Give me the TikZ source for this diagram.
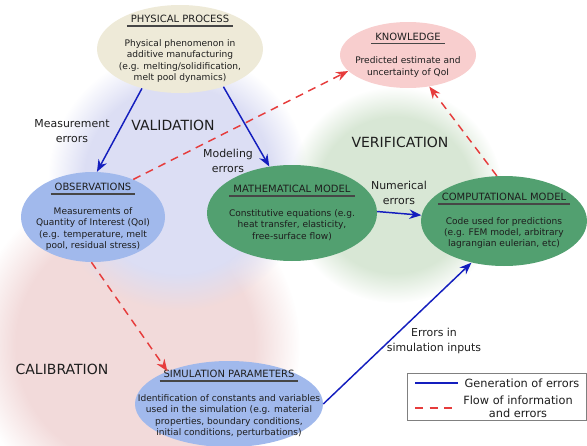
\documentclass[tikz,border=0pt]{standalone}
\usepackage{fontspec}
\setmainfont{DejaVu Sans}
\usetikzlibrary{arrows.meta, shapes.geometric, fadings}

\newcommand{\heading}[1]{\begingroup\fontsize{7.5}{9}\selectfont\setbox0=\hbox{#1}\leavevmode\rlap{\color{rule_color}\kern-3pt\rule[-3pt]{\dimexpr\wd0+6pt\relax}{1.3pt}}\box0\endgroup}

\pgfdeclareradialshading{blobshade}{\pgfpointorigin}{color(0bp)=(pgftransparent!0); color(18bp)=(pgftransparent!0); color(25bp)=(pgftransparent!100); color(50bp)=(pgftransparent!100)}
\pgfdeclarefading{soft blob}{\pgfuseshading{blobshade}}

\begin{document}
\begin{tikzpicture}[x=0.75pt, y=-0.75pt,
  bubble/.style={ellipse, inner sep=0pt},
  bubbletext/.style={align=center, text=text_color, font=\fontsize{6.8}{8.6}\selectfont},
  errlabel/.style={align=center, text=text_color, font=\fontsize{8.2}{11}\selectfont},
  zonelabel/.style={text=text_color, font=\fontsize{10.5}{12}\selectfont},
  blob/.style={path fading=soft blob},
  generr/.style={line width=1.1pt, draw=gen_color, -{Stealth[length=9pt, width=7pt]}},
  flowerr/.style={line width=1.1pt, draw=flow_color, dash pattern=on 6pt off 4.5pt, -{Stealth[length=9pt, width=7pt]}}]
\definecolor{process_color}{RGB}{238,234,216}
\definecolor{knowledge_color}{RGB}{248,206,206}
\definecolor{obs_color}{RGB}{161,185,236}
\definecolor{model_color}{RGB}{82,160,112}
\definecolor{valid_color}{RGB}{220,222,244}
\definecolor{verif_color}{RGB}{216,231,213}
\definecolor{calib_color}{RGB}{242,218,218}
\definecolor{gen_color}{RGB}{20,30,190}
\definecolor{flow_color}{RGB}{230,60,60}
\definecolor{text_color}{RGB}{30,30,30}
\definecolor{rule_color}{RGB}{70,70,70}

\useasboundingbox (0,0) rectangle (587,446);

\fill[calib_color, blob] (135,345) circle (165);
\fill[valid_color, blob] (178,180) circle (130);
\fill[verif_color, blob] (395,195) circle (108);

\node[bubble, fill=process_color, minimum width=0.75*166, minimum height=0.75*88] (phys) at (180,49) {};
\node[bubbletext] (phys-txt) at (phys) {\heading{PHYSICAL PROCESS}\\[9pt] Physical phenomenon in\\ additive manufacturing\\ (e.g. melting/solidification,\\ melt pool dynamics)};

\node[bubble, fill=knowledge_color, minimum width=0.75*136, minimum height=0.75*66] (know) at (408,55) {};
\node[bubbletext] (know-txt) at (know) {\heading{KNOWLEDGE}\\[9pt] Predicted estimate and\\ uncertainty of QoI};

\node[bubble, fill=obs_color, minimum width=0.75*144, minimum height=0.75*90] (obs) at (93,217) {};
\node[bubbletext] (obs-txt) at (obs) {\heading{OBSERVATIONS}\\[9pt] Measurements of\\ Quantity of Interest (QoI)\\ (e.g. temperature, melt\\ pool, residual stress)};

\node[bubble, fill=model_color, minimum width=0.75*170, minimum height=0.75*96] (math) at (292,213) {};
\node[bubbletext] (math-txt) at (math) {\heading{MATHEMATICAL MODEL}\\[9pt] Constitutive equations (e.g.\\ heat transfer, elasticity,\\ free-surface flow)};

\node[bubble, fill=model_color, minimum width=0.75*166, minimum height=0.75*90] (comp) at (504,221) {};
\node[bubbletext] (comp-txt) at (comp) {\heading{COMPUTATIONAL MODEL}\\[9pt] Code used for predictions\\ (e.g. FEM model, arbitrary\\ lagrangian eulerian, etc)};

\node[bubble, fill=obs_color, minimum width=0.75*188, minimum height=0.75*86] (sim) at (229,404) {};
\node[bubbletext] (sim-txt) at (sim) {\heading{SIMULATION PARAMETERS}\\[9pt] Identification of constants and variables\\ used in the simulation (e.g. material\\ properties, boundary conditions,\\ initial conditions, perturbations)};

\node[zonelabel] (valid) at (173,125) {VALIDATION};
\node[zonelabel] (verif) at (400,142) {VERIFICATION};
\node[zonelabel] (calib) at (62,369) {CALIBRATION};

\node[errlabel] (meas-lbl) at (72,131) {Measurement\\ errors};
\node[errlabel] (model-lbl) at (228,161) {Modeling\\ errors};
\node[errlabel] (num-lbl) at (399,193) {Numerical\\ errors};
\node[errlabel] (input-lbl) at (434,341) {Errors in\\ simulation inputs};

\draw[generr] (phys.226) -- (obs.85);
\draw[generr] (phys.319) -- (math.116);
\draw[generr] (math.1) -- (comp.176);
\draw[generr] (sim.east) -- (comp.232);

\draw[flowerr] (obs.43) -- (know.195);
\draw[flowerr] (obs.268) -- (sim.152);
\draw[flowerr] (comp.99) -- (know.304);

\node[draw=black!50, fill=white, line width=0.8pt, minimum width=0.75*179, minimum height=0.75*47, anchor=north west, inner sep=0pt] (legend) at (407,373) {};
\coordinate (gen-a) at (415,383);
\coordinate (gen-b) at (458,383);
\coordinate (flow-a) at (415,408);
\coordinate (flow-b) at (454,408);
\draw[line width=1.1pt, gen_color] (gen-a) -- (gen-b);
\draw[line width=1.1pt, flow_color, dash pattern=on 6pt off 5pt] (flow-a) -- (flow-b);
\node[errlabel, font=\fontsize{8.5}{10}\selectfont] (gen-txt) at (522,383) {Generation of errors};
\node[errlabel, font=\fontsize{8.5}{10}\selectfont] (flow-txt) at (518,407) {Flow of information\\ and errors};
\end{tikzpicture}
\end{document}
